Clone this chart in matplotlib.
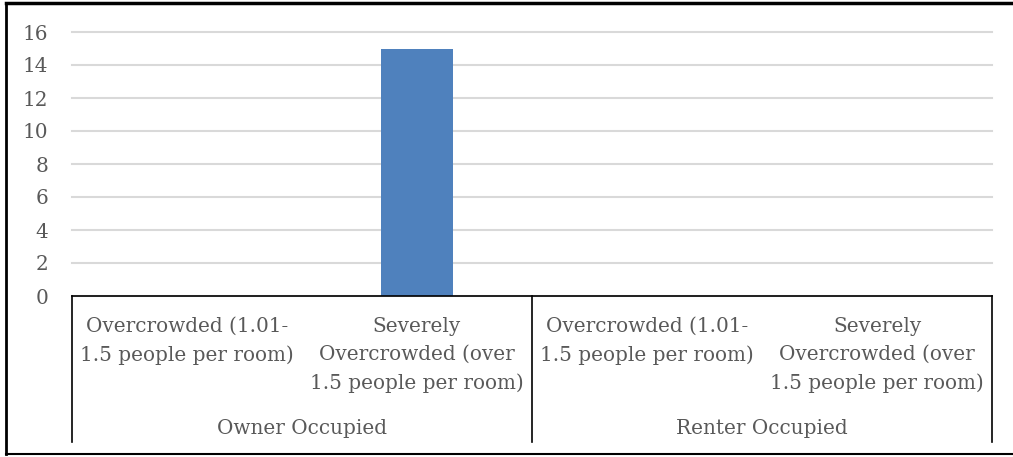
import numpy as np
import matplotlib
matplotlib.use("Agg")
import matplotlib.pyplot as plt
from matplotlib.lines import Line2D

# data
groups = ["Owner Occupied", "Renter Occupied"]
categories = ["Overcrowded (1.01-\n1.5 people per room)",
              "Severely\nOvercrowded (over\n1.5 people per room)",
              "Overcrowded (1.01-\n1.5 people per room)",
              "Severely\nOvercrowded (over\n1.5 people per room)"]
values = [0, 15, 0, 0]
yticks = [0, 2, 4, 6, 8, 10, 12, 14, 16]

W, H = 1013, 457
fig = plt.figure(figsize=(W / 100, H / 100), dpi=100)
ax = fig.add_axes([72 / W, (H - 296) / H, 920 / W, (296 - 32) / H])

txt_color = "#595959"
fnt = "DejaVu Serif"
fs = 14.4

x = np.arange(len(categories))
ax.bar(x, values, width=0.31, color="#4F81BD", zorder=3)
ax.set_xlim(-0.5, len(categories) - 0.5)
ax.set_ylim(0, 16)
ax.set_yticks(yticks)
ax.set_yticklabels([str(t) for t in yticks], fontsize=fs, family=fnt, color=txt_color)
ax.tick_params(axis="y", length=0, pad=17)
ax.set_xticks([])
ax.grid(axis="y", color="#D9D9D9", linewidth=1.5, zorder=0)
for gl in ax.get_ygridlines():
    gl.set_clip_on(False)
for s in ["left", "right", "top"]:
    ax.spines[s].set_visible(False)
ax.spines["bottom"].set_color("black")
ax.spines["bottom"].set_linewidth(1.2)
ax.spines["bottom"].set_zorder(4)

# category labels under the axis
trans = ax.get_xaxis_transform()
for xi, lab in zip(x, categories):
    ax.text(xi, -21 / 264, lab, transform=trans, ha="center", va="top",
            fontsize=fs, family=fnt, color=txt_color, linespacing=1.6)

# group labels and separators
n = len(categories) // len(groups)
for gi, g in enumerate(groups):
    cx = gi * n + (n - 1) / 2
    ax.text(cx, -(428 - 296) / 264, g, transform=trans, ha="center", va="center",
            fontsize=fs, family=fnt, color=txt_color)
for b in range(len(groups) + 1):
    ax.add_line(Line2D([b * n - 0.5, b * n - 0.5], [0, -(442 - 296) / 264],
                       transform=trans, color="black", linewidth=1.2, clip_on=False))

# outer frame
fig.add_artist(Line2D([6 / W, 6 / W], [1 - 3 / H, 1 - 454 / H], color="black", linewidth=2,
                      transform=fig.transFigure))
fig.add_artist(Line2D([6 / W, 1], [1 - 3 / H, 1 - 3 / H], color="black", linewidth=2.5,
                      transform=fig.transFigure))
fig.add_artist(Line2D([6 / W, 1], [1 - 454 / H, 1 - 454 / H], color="black", linewidth=1.5,
                      transform=fig.transFigure))

fig.savefig("out.png", dpi=100)
